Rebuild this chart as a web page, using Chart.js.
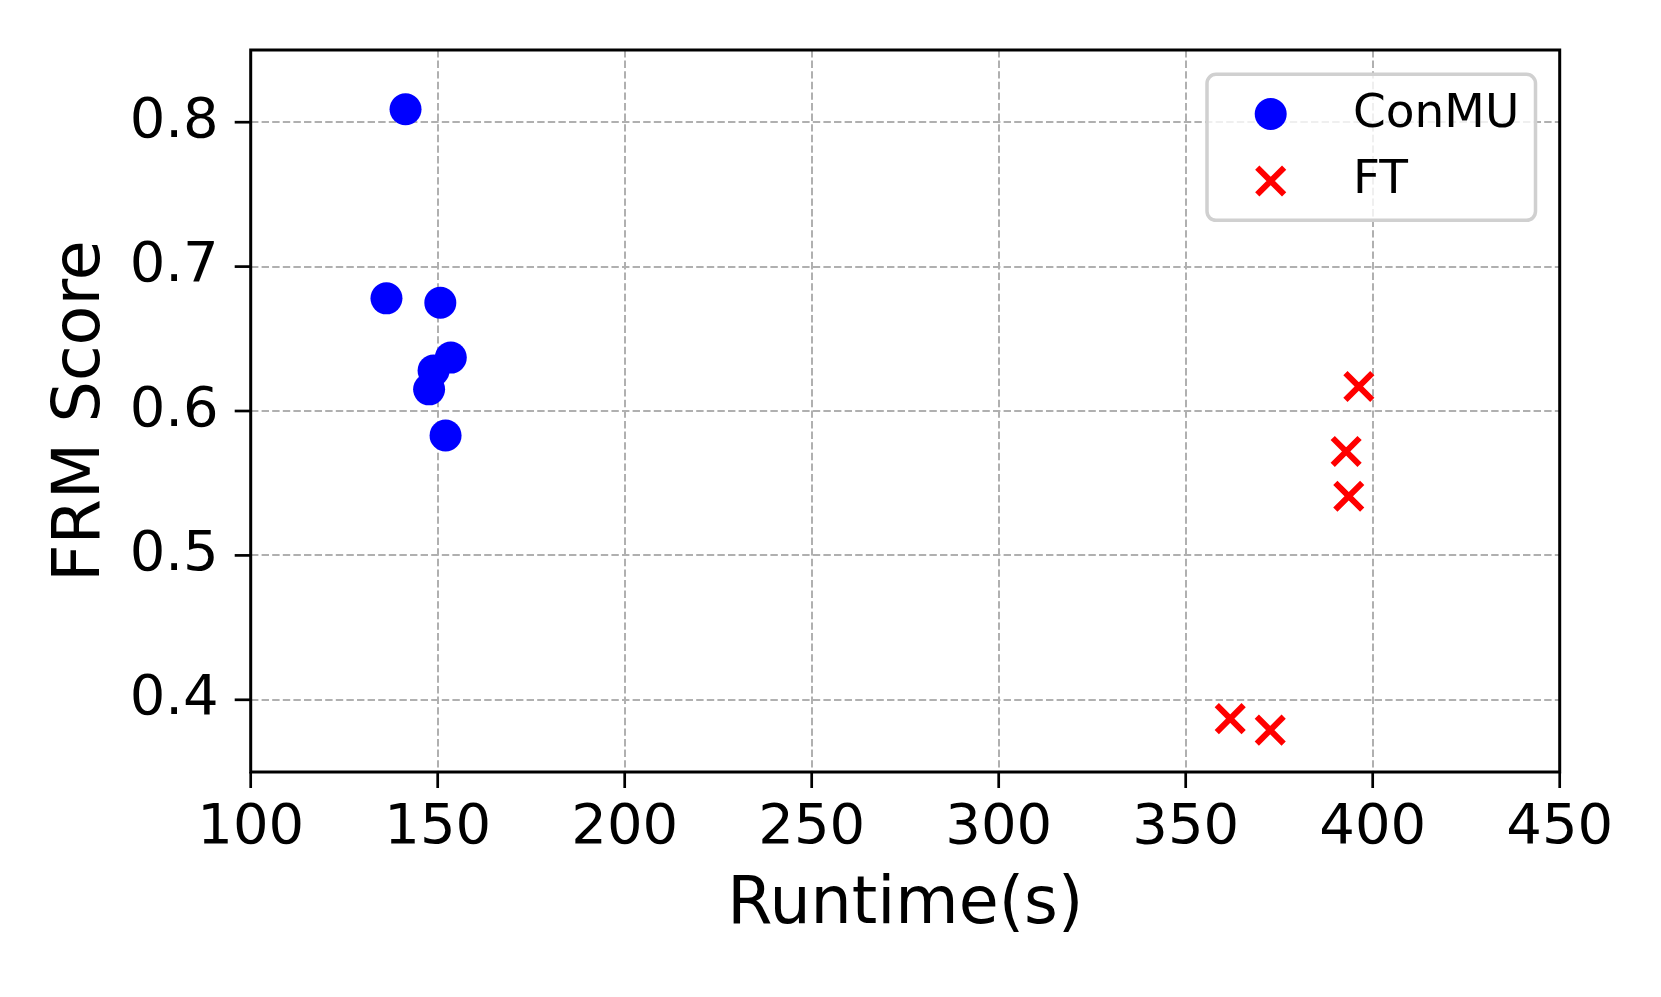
<!DOCTYPE html>
<html>
<head>
<meta charset="utf-8">
<script src="https://cdn.jsdelivr.net/npm/chart.js@4"></script>
<style>
  body { margin: 0; background: #fff; }
  canvas { display: block; }
</style>
</head>
<body>
<canvas id="chart" width="1661" height="997"></canvas>
<script>
// ConMU runs
const conmuRuntime = [141.4, 136.3, 150.7, 153.5, 148.9, 147.7, 152.1];
const conmuScore = [0.809, 0.678, 0.675, 0.637, 0.628, 0.615, 0.583];

// FT runs
const ftRuntime = [396.3, 392.9, 393.6, 361.9, 372.6];
const ftScore = [0.617, 0.572, 0.541, 0.387, 0.379];

const seriesNames = ['ConMU', 'FT'];

// tick labels
const xTicks = [100, 150, 200, 250, 300, 350, 400, 450];
const yTicks = [0.4, 0.5, 0.6, 0.7, 0.8];

const FONT = 'DejaVu Sans';

// black frame + outward ticks like matplotlib
const frameTicks = {
  id: 'frameTicks',
  afterDatasetsDraw(chart) {
    const { ctx, chartArea: a, scales } = chart;
    ctx.save();
    ctx.strokeStyle = '#000';
    ctx.lineWidth = 2.7;
    scales.x.ticks.forEach(t => {
      const px = scales.x.getPixelForValue(t.value);
      ctx.beginPath();
      ctx.moveTo(px, a.bottom);
      ctx.lineTo(px, a.bottom + 16);
      ctx.stroke();
    });
    scales.y.ticks.forEach(t => {
      const py = scales.y.getPixelForValue(t.value);
      ctx.beginPath();
      ctx.moveTo(a.left, py);
      ctx.lineTo(a.left - 16, py);
      ctx.stroke();
    });
    ctx.lineWidth = 3;
    ctx.strokeRect(a.left, a.top, a.right - a.left, a.bottom - a.top);
    ctx.restore();
  }
};

// legend box in the upper right corner
const boxLegend = {
  id: 'boxLegend',
  afterDraw(chart) {
    const ctx = chart.ctx;
    const x0 = 1207, y0 = 74.3, x1 = 1535.5, y1 = 220.3, r = 9;
    const mx = 1270.7;
    ctx.save();
    ctx.beginPath();
    ctx.roundRect(x0, y0, x1 - x0, y1 - y0, r);
    ctx.fillStyle = 'rgba(255,255,255,0.8)';
    ctx.fill();
    ctx.lineWidth = 3.5;
    ctx.strokeStyle = '#d0d0d0';
    ctx.stroke();

    const rows = [114, 181];
    const baselines = [126.5, 193];
    chart.data.datasets.forEach((ds, i) => {
      ctx.fillStyle = ds.backgroundColor;
      ctx.strokeStyle = ds.borderColor;
      ctx.lineWidth = ds.pointBorderWidth;
      ctx.beginPath();
      if (ds.pointStyle === 'circle') {
        ctx.arc(mx, rows[i], ds.pointRadius, 0, Math.PI * 2);
        ctx.fill();
      } else {
        const d = ds.pointRadius * Math.SQRT1_2;
        ctx.moveTo(mx - d, rows[i] - d);
        ctx.lineTo(mx + d, rows[i] + d);
        ctx.moveTo(mx + d, rows[i] - d);
        ctx.lineTo(mx - d, rows[i] + d);
        ctx.stroke();
      }
      ctx.fillStyle = '#000';
      ctx.font = '47px "' + FONT + '"';
      ctx.textAlign = 'left';
      ctx.textBaseline = 'alphabetic';
      ctx.fillText(ds.label, 1353, baselines[i]);
    });
    ctx.restore();
  }
};

new Chart(document.getElementById('chart'), {
  type: 'scatter',
  data: {
    datasets: [
      {
        label: seriesNames[0],
        data: conmuRuntime.map((x, i) => ({ x: x, y: conmuScore[i] })),
        pointStyle: 'circle',
        pointRadius: 16,
        pointBorderWidth: 0,
        backgroundColor: '#0000ff',
        borderColor: '#0000ff'
      },
      {
        label: seriesNames[1],
        data: ftRuntime.map((x, i) => ({ x: x, y: ftScore[i] })),
        pointStyle: 'crossRot',
        pointRadius: 19,
        pointBorderWidth: 6,
        borderWidth: 6,
        backgroundColor: '#ff0000',
        borderColor: '#ff0000'
      }
    ]
  },
  options: {
    responsive: false,
    animation: false,
    devicePixelRatio: 1,
    layout: { padding: { top: 50, right: 101.3, left: 0, bottom: 0 } },
    plugins: {
      legend: { display: false },
      tooltip: { enabled: false }
    },
    scales: {
      x: {
        type: 'linear',
        min: 100,
        max: 450,
        afterBuildTicks(scale) { scale.ticks = xTicks.map(v => ({ value: v })); },
        ticks: {
          padding: 23,
          color: '#000',
          font: { family: FONT, size: 56, lineHeight: 1.2 },
          maxRotation: 0,
          callback: v => String(v)
        },
        grid: { color: '#b0b0b0', lineWidth: 2, drawTicks: false },
        border: { display: false, dash: [7.4, 3.2] },
        title: {
          display: true,
          text: 'Runtime(s)',
          color: '#000',
          font: { family: FONT, size: 65, lineHeight: 1.2 },
          padding: { top: 0, bottom: 52 }
        },
        afterFit(scale) {
          scale.height = 225;
          scale.paddingLeft = 0;
          scale.paddingRight = 0;
        }
      },
      y: {
        type: 'linear',
        min: 0.35,
        max: 0.85,
        afterBuildTicks(scale) { scale.ticks = yTicks.map(v => ({ value: v })); },
        ticks: {
          padding: 32,
          color: '#000',
          font: { family: FONT, size: 56, lineHeight: 1.2 },
          callback: v => v.toFixed(1)
        },
        grid: { color: '#b0b0b0', lineWidth: 2, drawTicks: false },
        border: { display: false, dash: [7.4, 3.2] },
        title: {
          display: true,
          text: 'FRM Score',
          color: '#000',
          font: { family: FONT, size: 65, lineHeight: 1.2 },
          padding: { top: 43, bottom: 0 }
        },
        afterFit(scale) {
          scale.width = 250.7;
          scale.paddingTop = 0;
          scale.paddingBottom = 0;
        }
      }
    }
  },
  plugins: [frameTicks, boxLegend]
});
</script>
</body>
</html>
